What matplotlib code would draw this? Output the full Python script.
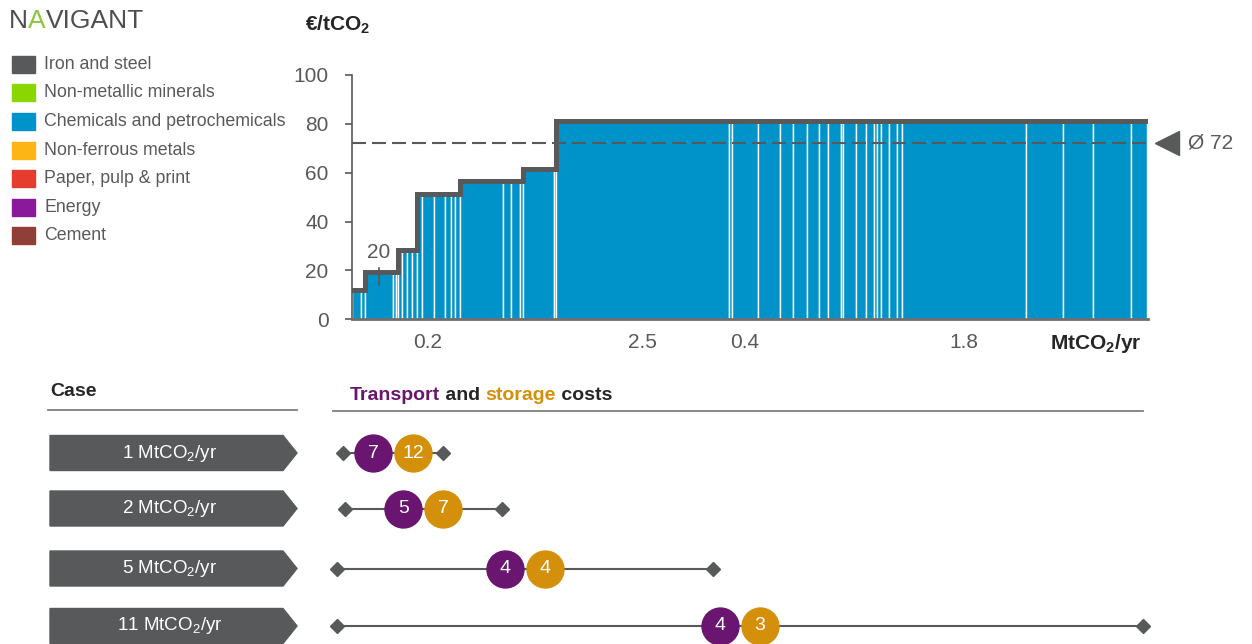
import numpy as np
import matplotlib
matplotlib.use("Agg")
import matplotlib.pyplot as plt
from matplotlib.patches import Polygon, Rectangle

plt.rcParams['font.family'] = ['Liberation Sans', 'DejaVu Sans']
plt.rcParams['mathtext.fontset'] = 'custom'
plt.rcParams['mathtext.rm'] = 'Liberation Sans'
plt.rcParams['mathtext.bf'] = 'Liberation Sans:bold'

# cost curve: one entry per plant, capacity in MtCO2/yr and cost in EUR/tCO2
plant_capacity = [0.13, 0.05,
                  0.39, 0.04, 0.03,
                  0.06, 0.06, 0.07, 0.07,
                  0.07, 0.17, 0.15, 0.08, 0.06, 0.07,
                  0.60, 0.11, 0.12, 0.04,
                  0.43, 0.03,
                  2.40, 0.04, 0.36, 0.31, 0.18, 0.19, 0.17, 0.12, 0.18, 0.03,
                  0.18, 0.14, 0.11, 0.04, 0.06, 0.11, 0.11, 0.07, 1.72, 0.51,
                  0.42, 0.53, 0.21]
plant_cost = ([12.0] * 2 + [19.5] * 3 + [28.3] * 4 + [51.4] * 6 + [56.7] * 4
              + [61.7] * 2 + [81.3] * 23)
width_labels = ["0.2", "2.5", "0.4", "1.8"]
width_label_plant = [10, 21, 23, 39]
avg_cost = 72
marked_plant = 2
marked_label = "20"

sectors = ["Iron and steel", "Non-metallic minerals", "Chemicals and petrochemicals",
           "Non-ferrous metals", "Paper, pulp & print", "Energy", "Cement"]
sector_colors = ["#58595B", "#8CD600", "#0093C9", "#FDB515", "#E63C2F", "#8A1A9B", "#8F3F37"]

# transport and storage cases
case_volume = [1, 2, 5, 11]
case_line_start = [-0.12, -0.10, -0.21, -0.21]
case_line_end = [1.26, 2.08, 5.01, 10.97]
transport_cost = [7, 5, 4, 4]
storage_cost = [12, 7, 4, 3]

blue = "#0093C9"
dgrey = "#58595B"
grey = "#595959"
dark = "#262626"
purple = "#6A1570"
gold = "#D4900A"

W, H = 1252, 644
fig = plt.figure(figsize=(W / 100, H / 100), dpi=100)

# overlay in pixel coordinates for legend, headers and boxes
bg = fig.add_axes([0, 0, 1, 1])
bg.set_xlim(0, W)
bg.set_ylim(H, 0)
bg.axis('off')

# logo
t = bg.text(9, 21, "N", fontsize=19, color="#4D4F53", va='center')
t = bg.annotate("A", xy=(1, 0.5), xycoords=t, va='center', fontsize=19, color="#8DC63F")
bg.annotate("VIGANT", xy=(1, 0.5), xycoords=t, va='center', fontsize=19, color="#4D4F53")

# legend
for i, (name, col) in enumerate(zip(sectors, sector_colors)):
    yc = 64.3 + 28.6 * i
    bg.add_patch(Rectangle((12, yc - 8.5), 23, 17, color=col))
    bg.text(44, yc, name, fontsize=12.8, color=grey, va='center')

# main chart
x_px0, x_px1 = 352, 1148
y0, y100 = 319.3, 75
ax = fig.add_axes([x_px0 / W, 1 - y0 / H, (x_px1 - x_px0) / W, (y0 - y100) / H])
ax.set_facecolor('none')
total = 11.04
ax.set_xlim(0, total)
ax.set_ylim(0, 100)

widths = np.array(plant_capacity)
lefts = np.concatenate([[0], np.cumsum(widths)[:-1]])
ax.bar(lefts, plant_cost, width=widths, align='edge', color=blue,
       edgecolor='white', linewidth=1.0, zorder=1)
edges = np.append(lefts, lefts[-1] + widths[-1])
ax.step(edges, plant_cost + [plant_cost[-1]], where='post', color=dgrey,
        lw=3.6, solid_joinstyle='miter', zorder=3)
ax.axhline(avg_cost, color=grey, lw=1.5, ls=(0, (6.7, 2.9)), zorder=4)

yt = ax.get_yaxis_transform()
ax.plot([1.024], [avg_cost], marker='<', ms=17, color=dgrey, transform=yt, clip_on=False)
ax.text(1.05, avg_cost, "Ø 72", transform=yt, fontsize=15, color=grey, va='center',
        clip_on=False)

mx = lefts[marked_plant] + widths[marked_plant] / 2
mc = plant_cost[marked_plant]
ax.plot([mx, mx], [mc - 5.5, mc + 1.5], color=dgrey, lw=1.2, zorder=5)
ax.text(mx, mc + 8, marked_label, ha='center', va='center', fontsize=15, color=grey)

for i, lab in zip(width_label_plant, width_labels):
    ax.text(lefts[i] + widths[i] / 2, -9.7, lab, ha='center', va='center',
            fontsize=15, color=grey, clip_on=False)

ax.set_xticks([])
ax.set_yticks(range(0, 101, 20))
ax.tick_params(axis='y', direction='out', length=5, width=1.2, color=grey,
               labelsize=15, labelcolor=grey, pad=12)
for s in ['top', 'right']:
    ax.spines[s].set_visible(False)
ax.spines['left'].set_color(grey)
ax.spines['left'].set_linewidth(1.2)
ax.spines['bottom'].set_color("#6D6D6D")
ax.spines['bottom'].set_linewidth(2)

bg.text(305, 25, r"€/tCO$_\mathbf{2}$", fontsize=15, fontweight='bold', color=dark, va='center')
bg.text(1142, 343, r"MtCO$_\mathbf{2}$/yr", fontsize=15, fontweight='bold', color=dark,
        va='center', ha='right')

# lower section headers
bg.text(50, 391, "Case", fontsize=14, fontweight='bold', color=dark, va='center')
bg.plot([48, 297], [410, 410], color="#7F7F7F", lw=1.3)
t = bg.text(350, 395, "Transport", fontsize=14, fontweight='bold', color=purple, va='center')
for word, col in [(" and ", dark), ("storage", gold), (" costs", dark)]:
    t = bg.annotate(word, xy=(1, 0.5), xycoords=t, va='center', ha='left',
                    fontsize=14, fontweight='bold', color=col)
bg.plot([333, 1143], [411, 411], color="#7F7F7F", lw=1.3)

# case boxes
row_px = [453, 508.5, 568.5, 626]
for yc, v in zip(row_px, case_volume):
    pts = [(50, yc - 17.5), (283, yc - 17.5), (297, yc), (283, yc + 17.5), (50, yc + 17.5)]
    bg.add_patch(Polygon(pts, closed=True, color=dgrey))
    bg.text(170, yc, f"{v} MtCO$_2$/yr", fontsize=13.5, color='white', ha='center', va='center')

# transport / storage rows
ax2 = fig.add_axes([x_px0 / W, 0, (x_px1 - x_px0) / W, 274 / H])
ax2.set_xlim(0, total)
ax2.set_ylim(H, 370)
ax2.axis('off')
px_per_mt = (x_px1 - x_px0) / total
off = 20 / px_per_mt
for yc, s, e, tc, sc in zip(row_px, case_line_start, case_line_end, transport_cost, storage_cost):
    ax2.plot([s, e], [yc, yc], color=dgrey, lw=1.5, clip_on=False, zorder=1)
    ax2.plot([s, e], [yc, yc], 'D', ms=7, color=dgrey, clip_on=False, zorder=2)
    mid = (s + e) / 2
    ax2.plot([mid - off], [yc], 'o', ms=26.6, color=purple, clip_on=False, zorder=3)
    ax2.plot([mid + off], [yc], 'o', ms=26.6, color=gold, clip_on=False, zorder=3)
    ax2.text(mid - off, yc, str(tc), color='white', fontsize=14, ha='center', va='center', zorder=4)
    ax2.text(mid + off, yc, str(sc), color='white', fontsize=14, ha='center', va='center', zorder=4)

fig.savefig("out.png", dpi=100)
